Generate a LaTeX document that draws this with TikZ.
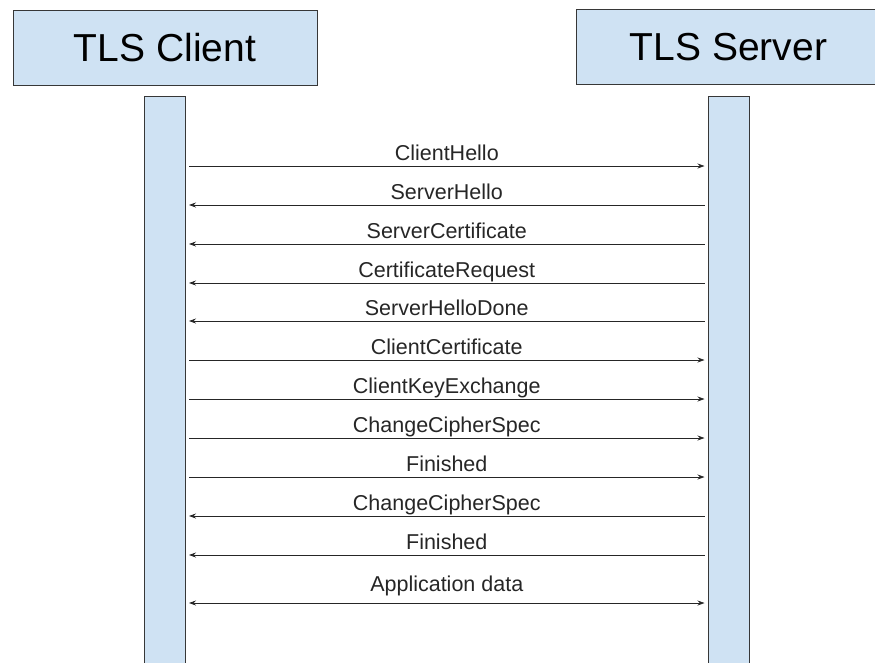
\documentclass[tikz,border=0pt]{standalone}
\usepackage{fontspec}
\setmainfont{Liberation Sans}
\usetikzlibrary{arrows.meta,positioning,calc}
\definecolor{boxblue}{RGB}{207,226,243}
\definecolor{edgegray}{RGB}{55,55,55}

\begin{document}
\begin{tikzpicture}[x=1pt,y=-1pt,
   party/.style={draw=edgegray,fill=boxblue,line width=1pt,minimum width=304pt,
                 minimum height=75pt,inner sep=0pt,font=\fontsize{39}{45}\selectfont},
   life/.style={draw=edgegray,fill=boxblue,line width=1pt,minimum width=41pt,
                minimum height=620pt,anchor=north},
   lbl/.style={font=\fontsize{21.5}{25}\selectfont,anchor=base},
   msg/.style={line width=0.8pt,black!85,shorten <=3pt,shorten >=3pt},
   fwd/.style={msg,-{Stealth[length=7pt,width=5pt]}},
   bwd/.style={msg,{Stealth[length=7pt,width=5pt]}-},
   twoway/.style={msg,{Stealth[length=7pt,width=5pt]}-{Stealth[length=7pt,width=5pt]}}]
  \path[use as bounding box,clip] (0,0) rectangle (875,662);
  \node[party] (client) at (165,47.5) {TLS Client};
  \node[party,minimum width=340pt] (server) at (746,47) {TLS Server\kern35pt};
  \node[life] (cl) at (165,96) {};
  \node[life] (sl) at (728.5,96) {};
  % handshake messages
  \foreach \y/\dir/\txt in {166/fwd/ClientHello,205/bwd/ServerHello,
      244/bwd/ServerCertificate,283/bwd/CertificateRequest,321/bwd/ServerHelloDone,
      360/fwd/ClientCertificate,399/fwd/ClientKeyExchange,438/fwd/ChangeCipherSpec,
      477/fwd/Finished,516/bwd/ChangeCipherSpec,555/bwd/Finished}
     \draw[\dir] (cl.east |- 0,\y) -- (sl.west |- 0,\y)
        node[lbl,midway,yshift=6pt] {\txt};
  \draw[twoway] (cl.east |- 0,603) -- (sl.west |- 0,603)
     node[lbl,midway,yshift=12pt] {Application data};
\end{tikzpicture}
\end{document}
